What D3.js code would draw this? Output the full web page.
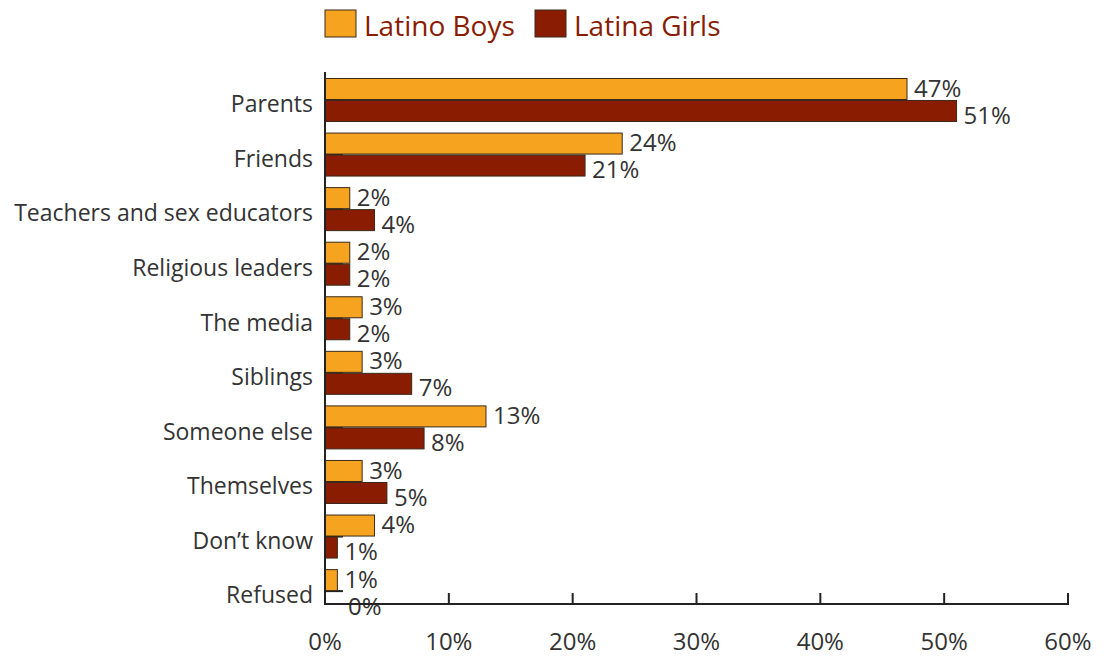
<!DOCTYPE html>
<html>
<head>
<meta charset="utf-8">
<script src="https://cdn.jsdelivr.net/npm/d3@7"></script>
<style>
  html, body { margin: 0; padding: 0; background: #fff; }
  svg { display: block; }
  text { font-family: "Open Sans", "Noto Sans", sans-serif; }
</style>
</head>
<body>
<svg id="chart" width="1104" height="658"></svg>
<script>
// Who teaches about sex: share of responses by source
const categories = ["Parents", "Friends", "Teachers and sex educators", "Religious leaders",
  "The media", "Siblings", "Someone else", "Themselves", "Don\u2019t know", "Refused"];
const boys = [47, 24, 2, 2, 3, 3, 13, 3, 4, 1];
const girls = [51, 21, 4, 2, 2, 7, 8, 5, 1, 0];
const seriesNames = ["Latino Boys", "Latina Girls"];
const xTicks = [0, 10, 20, 30, 40, 50, 60];

const colors = ["#F6A320", "#8A1C02"];
const svg = d3.select("#chart");

const x0 = 325, x1 = 1068, axisY = 604, topY = 72;
const x = d3.scaleLinear().domain([0, 60]).range([x0, x1]);
const y = d3.scaleBand().domain(categories).range([72.7, 618.4]);
const barH = 21;

// category ticks (drawn underneath the bars)
svg.append("g").selectAll("line").data(categories).join("line")
  .attr("x1", x0).attr("x2", x0 + 18)
  .attr("y1", d => y(d) + y.bandwidth() / 2)
  .attr("y2", d => y(d) + y.bandwidth() / 2)
  .attr("stroke", "#222").attr("stroke-width", 2);

const series = [boys, girls];
series.forEach((vals, si) => {
  const g = svg.append("g");
  const rows = categories.map((c, i) => ({ c, v: vals[i] }));
  const yTop = d => y(d.c) + y.bandwidth() / 2 + (si === 0 ? -barH - 0.5 : 0.5);
  g.selectAll("rect").data(rows.filter(d => d.v > 0)).join("rect")
    .attr("x", x(0))
    .attr("y", yTop)
    .attr("width", d => x(d.v) - x(0))
    .attr("height", barH)
    .attr("fill", colors[si])
    .attr("stroke", "#3a2a1a").attr("stroke-width", 1);
  g.selectAll("text").data(rows).join("text")
    .attr("x", d => x(d.v) + (d.v === 0 ? 23 : 7))
    .attr("y", d => yTop(d) + barH / 2 + (si === 0 ? -1 : 4))
    .attr("dy", "0.36em")
    .attr("font-size", 24)
    .attr("fill", "#333")
    .text(d => d.v + "%");
});

// category labels
svg.append("g").selectAll("text").data(categories).join("text")
  .attr("x", 313)
  .attr("y", d => y(d) + y.bandwidth() / 2 + 4)
  .attr("dy", "0.36em")
  .attr("text-anchor", "end")
  .attr("font-size", 23)
  .attr("fill", "#333")
  .text(d => d);

// axes
svg.append("line").attr("x1", x0).attr("x2", x0).attr("y1", topY).attr("y2", axisY + 1)
  .attr("stroke", "#222").attr("stroke-width", 2);
svg.append("line").attr("x1", x0).attr("x2", x1 + 1).attr("y1", axisY).attr("y2", axisY)
  .attr("stroke", "#222").attr("stroke-width", 2);
const xg = svg.append("g");
xg.selectAll("line").data(xTicks.slice(1)).join("line")
  .attr("x1", d => x(d)).attr("x2", d => x(d))
  .attr("y1", axisY).attr("y2", axisY - 11)
  .attr("stroke", "#222").attr("stroke-width", 2);
xg.selectAll("text").data(xTicks).join("text")
  .attr("x", d => x(d))
  .attr("y", 641)
  .attr("dy", "0.36em")
  .attr("text-anchor", "middle")
  .attr("font-size", 24)
  .attr("fill", "#333")
  .text(d => d + "%");

// legend
const legend = [{ x: 325, tx: 364 }, { x: 535, tx: 574 }];
legend.forEach((l, i) => {
  svg.append("rect").attr("x", l.x).attr("y", 10).attr("width", 31).attr("height", 27)
    .attr("fill", colors[i]).attr("stroke", "#3a2a1a").attr("stroke-width", 1);
  svg.append("text").attr("x", l.tx).attr("y", 26).attr("dy", "0.36em")
    .attr("font-size", 28).attr("fill", "#8A1C02").text(seriesNames[i]);
});
</script>
</body>
</html>
